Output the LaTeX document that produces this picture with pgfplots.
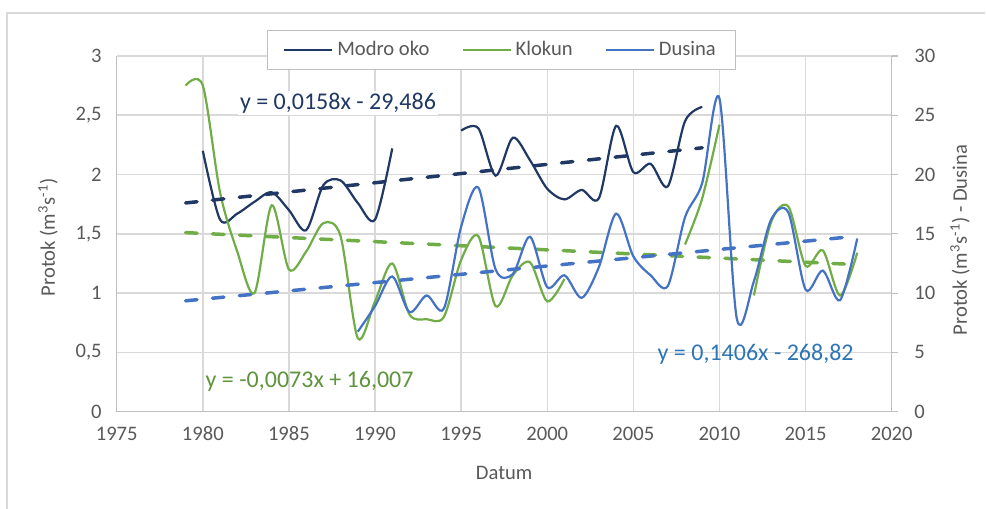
\documentclass[border=0pt]{standalone}
\usepackage{pgfplots}
\pgfplotsset{compat=1.18}
\usepackage{fontspec}
\setmainfont{Carlito}
\definecolor{navy}{HTML}{203864}
\definecolor{kgreen}{HTML}{70AD47}
\definecolor{dblue}{HTML}{4472C4}
\definecolor{eqblue}{HTML}{2E75B6}
\definecolor{txt}{HTML}{595959}
\definecolor{gridc}{HTML}{D9D9D9}
\definecolor{axl}{HTML}{BFBFBF}

\pgfplotstableread{
year v
1980 2.20
1981 1.62
1982 1.67
1983 1.77
1984 1.85
1985 1.70
1986 1.53
1987 1.91
1988 1.95
1989 1.76
1990 1.62
1991 2.22
}\modroA
\pgfplotstableread{
year v
1995 2.37
1996 2.39
1997 1.99
1998 2.31
1999 2.12
2000 1.88
2001 1.79
2002 1.87
2003 1.80
2004 2.41
2005 2.02
2006 2.09
2007 1.90
2008 2.45
2009 2.57
}\modroB
\pgfplotstableread{
year v
1979 2.75
1980 2.75
1981 1.85
1982 1.35
1983 1.00
1984 1.74
1985 1.20
1986 1.35
1987 1.59
1988 1.48
1989 0.62
1990 0.93
1991 1.25
1992 0.82
1993 0.78
1994 0.80
1995 1.28
1996 1.48
1997 0.89
1998 1.15
1999 1.26
2000 0.93
2001 1.12
}\kloA
\pgfplotstableread{
year v
2008 1.41
2009 1.80
2010 2.42
}\kloB
\pgfplotstableread{
year v
2012 0.98
2013 1.60
2014 1.73
2015 1.23
2016 1.36
2017 0.98
2018 1.34
}\kloC
\pgfplotstableread{
year v
1989 6.75
1990 8.9
1991 11.4
1992 8.4
1993 9.8
1994 8.7
1995 15.6
1996 18.9
1997 12.0
1998 11.6
1999 14.75
2000 10.5
2001 11.5
2002 9.6
2003 12.2
2004 16.7
2005 13.1
2006 11.5
2007 10.6
2008 16.4
2009 19.3
2010 26.4
2011 7.9
2012 11.0
2013 16.2
2014 16.8
2015 10.3
2016 11.9
2017 9.4
2018 14.6
}\dusina

\tikzset{lbl/.style={font=\fontsize{10.3}{12}\selectfont, text=txt}}
\pgfplotsset{
 common/.style={
  scale only axis, width=387.5pt, height=177.9pt,
  xmin=1975, xmax=2020,
  at={(0,0)}, anchor=south west,
  /pgf/number format/assume math mode=true,
  /pgf/number format/use comma,
  /pgf/number format/1000 sep={},
  tick label style={font=\fontsize{10.3}{12}\selectfont, text=txt},
 },
 dline/.style={line width=1.1pt, smooth, no markers},
 tline/.style={line width=1.75pt, dash pattern=on 5.75pt off 7.75pt, line cap=round, no markers},
}

\begin{document}
\begin{tikzpicture}
\begin{axis}[common,
 ymin=0, ymax=3, ytick={0,0.5,1,1.5,2,2.5,3},
 xtick={1975,1980,1985,1990,1995,2000,2005,2010,2015,2020},
 axis x line*=bottom, axis y line*=left,
 axis line style={draw=axl, line width=0.6pt},
 grid=major, major grid style={draw=gridc, line width=0.75pt},
 major tick length=0pt,
 xticklabel style={yshift=-4pt},
 yticklabel style={xshift=-4pt},
 xlabel={Datum},
 ylabel={Protok (m\textsuperscript{3}s\textsuperscript{-1})},
 every axis x label/.style={lbl, at={(axis description cs:0.5,-0.1723)}, anchor=center},
 every axis y label/.style={lbl, at={(axis description cs:-0.0886,0.49)}, anchor=center, rotate=90},
 clip=false,
]
\addplot[dline, navy] table[x=year,y=v] {\modroA};
\addplot[dline, navy] table[x=year,y=v] {\modroB};
\addplot[dline, kgreen] table[x=year,y=v] {\kloA};
\addplot[dline, kgreen] table[x=year,y=v] {\kloB};
\addplot[dline, kgreen] table[x=year,y=v] {\kloC};
\addplot[tline, navy] coordinates {(1979,1.76) (2009,2.225)};
\addplot[tline, kgreen] coordinates {(1979,1.51) (2018,1.24)};
\node[fill=white, inner sep=1pt, text=navy, font=\fontsize{12}{14}\selectfont] at (axis cs:1987.85,2.60) {y = 0,0158x - 29,486};
\node[inner sep=1pt, text=kgreen!85!black, font=\fontsize{12}{14}\selectfont] at (axis cs:1986.2,0.26) {y = -0,0073x + 16,007};
\node[inner sep=1pt, text=eqblue, font=\fontsize{12}{14}\selectfont] at (axis cs:2012.1,0.487) {y = 0,1406x - 268,82};
\end{axis}
\begin{axis}[common,
 ymin=0, ymax=30, ytick={0,5,10,15,20,25,30},
 axis y line*=right, axis x line=none,
 axis line style={draw=axl, line width=0.6pt},
 ytick style={draw=axl, line width=0.6pt},
 tick align=outside, major tick length=3.3pt,
 yticklabel style={xshift=4.5pt},
 ylabel={Protok (m\textsuperscript{3}s\textsuperscript{-1}) - Dusina},
 every axis y label/.style={lbl, at={(axis description cs:1.0881,0.4826)}, anchor=center, rotate=90},
 legend columns=3,
 legend style={at={(axis description cs:0.4965,1.0166)}, anchor=center,
   draw=axl, fill=white, font=\fontsize{10.3}{12}\selectfont, text=txt,
   inner xsep=8pt, inner ysep=3.5pt,
   /tikz/every even column/.append style={column sep=14pt}},
 legend image code/.code={\draw[#1] (0pt,0pt) -- (24pt,0pt);},
]
\addlegendimage{line width=1.1pt, navy}
\addlegendentry{Modro oko}
\addlegendimage{line width=1.1pt, kgreen}
\addlegendentry{Klokun}
\addplot[tline, dblue, forget plot] coordinates {(1979,9.35) (2018,14.8)};
\addplot[dline, dblue] table[x=year,y=v] {\dusina};
\addlegendentry{Dusina}
\end{axis}
\draw[gridc, line width=0.6pt] (-54.85pt,-48.65pt) -- (-54.85pt,199.35pt) -- (434.15pt,199.35pt);
\pgfresetboundingbox
\useasboundingbox (-58.35pt,-48.65pt) rectangle (434.65pt,205.85pt);
\end{tikzpicture}
\end{document}
